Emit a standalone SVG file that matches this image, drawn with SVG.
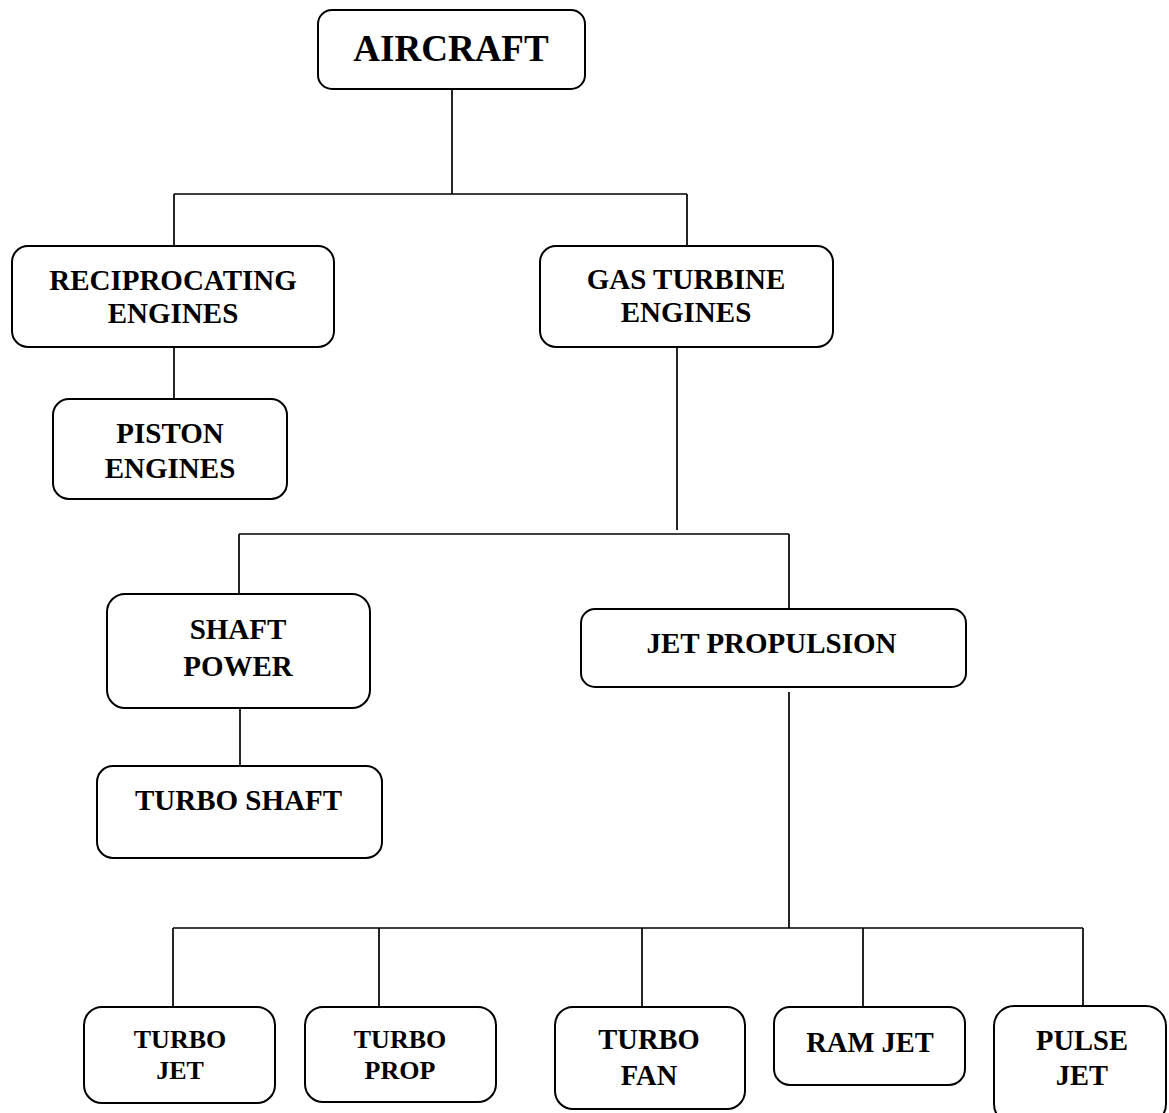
<svg xmlns="http://www.w3.org/2000/svg" width="1169" height="1113" viewBox="0 0 1169 1113">
<style>
.box{fill:#fff;stroke:#000;stroke-width:2}
.ln{fill:none;stroke:#000;stroke-width:1.7}
text{font-family:"Liberation Serif","Times New Roman",serif;font-weight:bold;fill:#000;text-anchor:middle}
.t37{font-size:37px}
.t29{font-size:29px}
.t28{font-size:28.5px}
.t26{font-size:26px}
</style>
<rect width="1169" height="1113" fill="#fff"/>
<g id="connectors">
<path class="ln" d="M452,89 V194 M174,194 H687 M174,194 V246 M687,194 V246"/>
<path class="ln" d="M174,347 V399"/>
<path class="ln" d="M677,347 V530 M239,534 H789 M239,534 V594 M789,534 V613"/>
<path class="ln" d="M240,708 V766"/>
<path class="ln" d="M789,692 V928 M173,928 H1083 M173,928 V1007 M379,928 V1007 M642,928 V1007 M863,928 V1007 M1083,928 V1006"/>
</g>
<g id="aircraft">
<rect class="box" x="318" y="10" width="267" height="79" rx="14"/>
<text class="t37" x="451" y="61">AIRCRAFT</text>
</g>
<g id="reciprocating">
<rect class="box" x="12" y="246" width="322" height="101" rx="16"/>
<text class="t29"><tspan x="173" y="290">RECIPROCATING</tspan><tspan x="173" y="323">ENGINES</tspan></text>
</g>
<g id="gasturbine">
<rect class="box" x="540" y="246" width="293" height="101" rx="16"/>
<text class="t29"><tspan x="686" y="289">GAS TURBINE</tspan><tspan x="686" y="322">ENGINES</tspan></text>
</g>
<g id="piston">
<rect class="box" x="53" y="399" width="234" height="100" rx="16"/>
<text class="t29"><tspan x="170" y="443">PISTON</tspan><tspan x="170" y="478">ENGINES</tspan></text>
</g>
<g id="shaftpower">
<rect class="box" x="107" y="594" width="263" height="114" rx="18"/>
<text class="t29"><tspan x="238" y="639">SHAFT</tspan><tspan x="238" y="676">POWER</tspan></text>
</g>
<g id="turboshaft">
<rect class="box" x="97" y="766" width="285" height="92" rx="16"/>
<text class="t29" x="238.5" y="810">TURBO SHAFT</text>
</g>
<g id="jetpropulsion">
<rect class="box" x="581" y="609" width="385" height="78" rx="14"/>
<text class="t29" x="771.5" y="653">JET PROPULSION</text>
</g>
<g id="turbojet">
<rect class="box" x="84" y="1007" width="191" height="96" rx="18"/>
<text class="t26"><tspan x="180" y="1048">TURBO</tspan><tspan x="180" y="1079">JET</tspan></text>
</g>
<g id="turboprop">
<rect class="box" x="305" y="1007" width="191" height="95" rx="18"/>
<text class="t26"><tspan x="400" y="1048">TURBO</tspan><tspan x="400" y="1079">PROP</tspan></text>
</g>
<g id="turbofan">
<rect class="box" x="555" y="1007" width="190" height="102" rx="18"/>
<text class="t28"><tspan x="649" y="1049">TURBO</tspan><tspan x="649" y="1085">FAN</tspan></text>
</g>
<g id="ramjet">
<rect class="box" x="774" y="1007" width="191" height="78" rx="16"/>
<text class="t28" x="870" y="1052">RAM JET</text>
</g>
<g id="pulsejet">
<rect class="box" x="994" y="1006" width="172" height="118" rx="20"/>
<text class="t28"><tspan x="1082" y="1050">PULSE</tspan><tspan x="1082" y="1085">JET</tspan></text>
</g>
</svg>
